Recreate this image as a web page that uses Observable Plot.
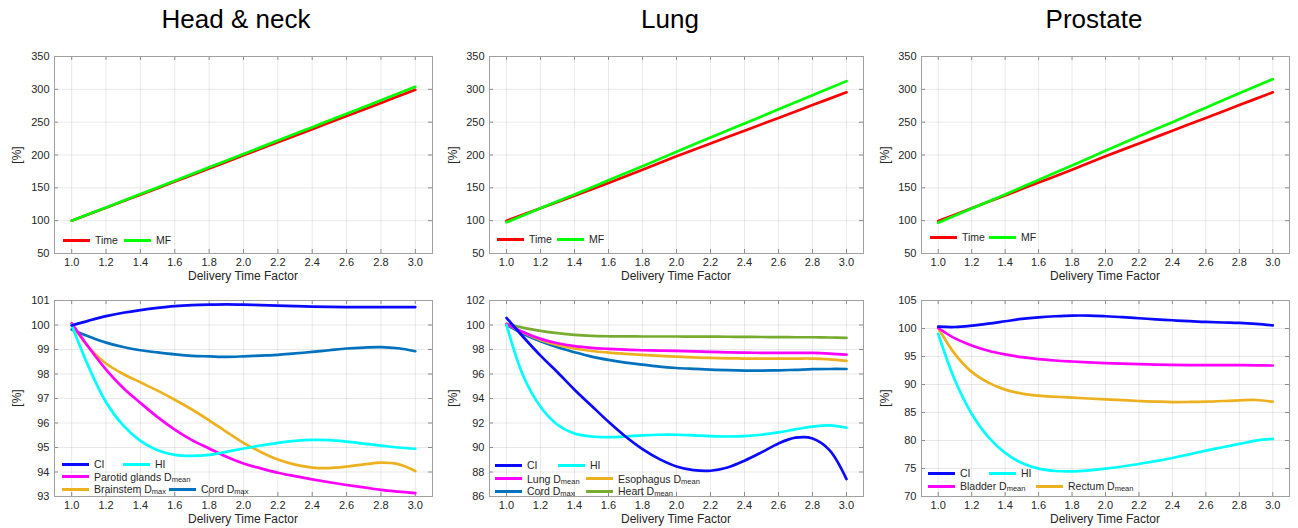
<!DOCTYPE html>
<html>
<head>
<meta charset="utf-8">
<script src="https://cdn.jsdelivr.net/npm/d3@7"></script>
<script src="https://cdn.jsdelivr.net/npm/@observablehq/plot@0.6"></script>
<style>
  body { margin: 0; background: #fff; }
  #root { position: relative; width: 1298px; height: 528px; background: #fff; overflow: hidden;
          font-family: "Liberation Sans", Arial, sans-serif; color: #262626; }
  .title { position: absolute; font-size: 26px; color: #000; transform: translate(-50%, 0); white-space: nowrap; }
  .xlab { position: absolute; font-size: 12px; transform: translate(-50%, -50%); white-space: nowrap; }
  .ylab { position: absolute; font-size: 12px; transform: translate(-50%, -50%) rotate(-90deg); white-space: nowrap; }
  .leg { position: absolute; font-size: 10.5px; white-space: nowrap; display: flex; align-items: center; transform: translate(0, -50%); }
  .leg .sw { display: inline-block; width: 27px; height: 3px; margin-right: 5px; }
  .leg small { font-size: 7.5px; position: relative; top: 1px; }
</style>
</head>
<body>
<div id="root"></div>
<script>
// ---------- data ----------
const titles = ["Head & neck", "Lung", "Prostate"];
const xLabel = "Delivery Time Factor";
const yLabel = "[%]";

const xTicks = [1.0, 1.2, 1.4, 1.6, 1.8, 2.0, 2.2, 2.4, 2.6, 2.8, 3.0];
const xTop = [1.0, 1.2, 1.4, 1.6, 1.8, 2.0, 2.2, 2.4, 2.6, 2.8, 3.0];
const xBottom = [1.0, 1.1, 1.2, 1.3, 1.4, 1.5, 1.6, 1.7, 1.8, 1.9, 2.0, 2.1, 2.2, 2.3, 2.4, 2.5, 2.6, 2.7, 2.8, 2.9, 3.0];

const yTicksTop = [50, 100, 150, 200, 250, 300, 350];
const yTicksHN = [93, 94, 95, 96, 97, 98, 99, 100, 101];
const yTicksLung = [86, 88, 90, 92, 94, 96, 98, 100, 102];
const yTicksProstate = [70, 75, 80, 85, 90, 95, 100, 105];

// top row: Time and MF
const hnTime = [100, 119.7, 139.6, 159.5, 179.4, 199.6, 219.5, 239.4, 259.3, 279.3, 299.2];
const hnMF = [100, 120.2, 140.5, 160.8, 181.2, 201.6, 222.0, 242.4, 262.8, 283.3, 303.8];
const lungTime = [100, 119, 138, 157.5, 177.5, 198, 217.5, 237, 256.5, 276, 295.5];
const lungMF = [97.5, 119, 140, 161.5, 183, 205, 226.5, 248, 269.5, 291, 312.5];
const proTime = [99.5, 119, 138.5, 158, 177.5, 198, 217.5, 237, 256.5, 276, 295.5];
const proMF = [97, 118.5, 140, 162, 184, 206.5, 228.5, 250, 272, 294, 315.5];

// bottom row: Head & neck
const hnCI = [99.98, 100.18, 100.36, 100.5, 100.61, 100.7, 100.77, 100.81, 100.83, 100.84, 100.83, 100.81, 100.79, 100.77, 100.75, 100.74, 100.73, 100.73, 100.73, 100.73, 100.73];
const hnHI = [100.0, 98.27, 96.85, 95.9, 95.27, 94.89, 94.7, 94.66, 94.7, 94.82, 94.96, 95.08, 95.19, 95.27, 95.31, 95.3, 95.24, 95.16, 95.08, 95.0, 94.95];
const hnParotid = [100.07, 99.08, 98.18, 97.43, 96.82, 96.24, 95.73, 95.3, 94.96, 94.62, 94.35, 94.15, 93.97, 93.83, 93.7, 93.58, 93.47, 93.37, 93.27, 93.2, 93.14];
const hnBrainstem = [100.03, 99.08, 98.43, 98.0, 97.66, 97.32, 96.95, 96.55, 96.11, 95.64, 95.19, 94.82, 94.51, 94.3, 94.18, 94.16, 94.22, 94.31, 94.38, 94.32, 94.04];
const hnCord = [99.82, 99.53, 99.28, 99.1, 98.97, 98.88, 98.8, 98.74, 98.72, 98.7, 98.72, 98.75, 98.78, 98.84, 98.9, 98.97, 99.04, 99.08, 99.1, 99.05, 98.93];

// bottom row: Lung
const lungCI = [100.58, 99.0, 97.5, 96.14, 94.72, 93.41, 92.1, 90.9, 89.87, 89.05, 88.45, 88.15, 88.1, 88.37, 88.92, 89.6, 90.33, 90.8, 90.74, 89.79, 87.42];
const lungHI = [100.0, 95.79, 93.33, 91.86, 91.15, 90.9, 90.85, 90.9, 90.99, 91.04, 91.04, 90.99, 90.93, 90.9, 90.93, 91.04, 91.23, 91.48, 91.7, 91.81, 91.62];
const lungLung = [100.09, 99.41, 98.87, 98.51, 98.27, 98.13, 98.05, 97.99, 97.94, 97.91, 97.88, 97.84, 97.8, 97.77, 97.75, 97.73, 97.72, 97.72, 97.72, 97.67, 97.58];
const lungEsophagus = [100.09, 99.38, 98.78, 98.37, 98.08, 97.88, 97.75, 97.65, 97.56, 97.48, 97.42, 97.36, 97.31, 97.28, 97.26, 97.26, 97.26, 97.26, 97.26, 97.2, 97.07];
const lungCord = [100.0, 99.27, 98.67, 98.18, 97.78, 97.42, 97.15, 96.93, 96.77, 96.6, 96.49, 96.42, 96.36, 96.31, 96.28, 96.28, 96.3, 96.34, 96.39, 96.41, 96.41];
const lungHeart = [100.09, 99.77, 99.52, 99.33, 99.19, 99.11, 99.08, 99.07, 99.06, 99.06, 99.06, 99.05, 99.05, 99.04, 99.03, 99.02, 99.01, 99.0, 99.0, 98.98, 98.95];

// bottom row: Prostate
const proCI = [100.33, 100.27, 100.51, 100.87, 101.29, 101.71, 102.0, 102.19, 102.31, 102.31, 102.19, 102.02, 101.83, 101.64, 101.47, 101.3, 101.17, 101.07, 100.99, 100.82, 100.57];
const proHI = [99.02, 90.76, 84.78, 80.59, 77.78, 75.98, 74.97, 74.55, 74.49, 74.67, 74.97, 75.36, 75.8, 76.33, 76.88, 77.53, 78.2, 78.8, 79.39, 79.99, 80.29];
const proBladder = [100.09, 98.24, 96.98, 96.03, 95.37, 94.89, 94.53, 94.29, 94.11, 93.95, 93.81, 93.71, 93.63, 93.56, 93.51, 93.47, 93.45, 93.45, 93.45, 93.42, 93.39];
const proRectum = [100.09, 95.43, 92.26, 90.34, 89.09, 88.37, 88.01, 87.81, 87.65, 87.5, 87.35, 87.2, 87.05, 86.95, 86.87, 86.88, 86.93, 87.05, 87.17, 87.23, 86.93];

// colours
const C = {
  time: "#ff0000", mf: "#00ff00", ci: "#0a0aff", hi: "#00ffff",
  mag: "#ff00ff", orange: "#edb120", steel: "#0072bd", green: "#77ac30"
};

// ---------- layout ----------
const cols = [
  {left: 0, width: 436, ml: 54, mr: 4},
  {left: 436, width: 432, ml: 53, mr: 5},
  {left: 868, width: 430, ml: 53, mr: 9}
];
const rows = [
  {top: 48, height: 237, mt: 8, mb: 32},
  {top: 290, height: 238, mt: 10, mb: 32}
];

const root = document.getElementById("root");

function series(xs, list) {
  const out = [];
  for (const s of list) xs.forEach((x, i) => out.push({x, y: s.values[i], s: s.name}));
  return out;
}

function panel(col, row, yDomain, yTicks, list) {
  const c = cols[col], r = rows[row];
  const data = series(row === 0 ? xTop : xBottom, list);
  const fw = c.width - c.ml - c.mr, fh = r.height - r.mt - r.mb;
  const tickColor = "#8c8c8c";
  const svg = Plot.plot({
    width: c.width, height: r.height,
    marginLeft: c.ml, marginRight: c.mr, marginTop: r.mt, marginBottom: r.mb,
    style: {fontFamily: "'Liberation Sans', Arial, sans-serif", fontSize: "11px", color: "#262626", background: "transparent", overflow: "visible"},
    x: {domain: [0.9, 3.1]},
    y: {domain: yDomain},
    color: {domain: list.map(d => d.name), range: list.map(d => d.color)},
    marks: [
      Plot.gridX(xTicks, {stroke: "#000", strokeOpacity: 0.085}),
      Plot.gridY(yTicks, {stroke: "#000", strokeOpacity: 0.085}),
      Plot.tickX(xTicks, {x: d => d, stroke: tickColor, insetTop: fh - 4}),
      Plot.tickX(xTicks, {x: d => d, stroke: tickColor, insetBottom: fh - 4}),
      Plot.tickY(yTicks, {y: d => d, stroke: tickColor, insetRight: fw - 4}),
      Plot.tickY(yTicks, {y: d => d, stroke: tickColor, insetLeft: fw - 4}),
      Plot.axisX(xTicks, {tickSize: 0, tickPadding: 5, tickFormat: d3.format(".1f"), label: null}),
      Plot.axisY(yTicks, {tickSize: 0, tickPadding: 5, label: null}),
      Plot.frame({stroke: "#a0a0a0"}),
      Plot.line(data, {x: "x", y: "y", z: "s", stroke: "s", strokeWidth: 2.7, curve: "catmull-rom"})
    ]
  });
  svg.style.position = "absolute";
  svg.style.left = c.left + "px";
  svg.style.top = r.top + "px";
  root.appendChild(svg);

  // axis labels
  const cx = c.left + c.ml + fw / 2;
  const xl = document.createElement("div");
  xl.className = "xlab"; xl.textContent = xLabel;
  xl.style.left = cx + "px";
  xl.style.top = (r.top + r.height - r.mb + 23) + "px";
  root.appendChild(xl);
  const yl = document.createElement("div");
  yl.className = "ylab"; yl.textContent = yLabel;
  yl.style.left = (c.left + 17) + "px";
  yl.style.top = (r.top + r.mt + fh / 2) + "px";
  root.appendChild(yl);
}

function legend(items) {
  for (const it of items) {
    const d = document.createElement("div");
    d.className = "leg";
    d.style.left = it.x + "px";
    d.style.top = it.y + "px";
    const sw = document.createElement("span");
    sw.className = "sw"; sw.style.background = it.color;
    d.appendChild(sw);
    const t = document.createElement("span");
    t.textContent = it.label;
    if (it.sub) { const s = document.createElement("small"); s.textContent = it.sub; t.appendChild(s); }
    d.appendChild(t);
    root.appendChild(d);
  }
}

// titles
const titleCenters = [236, 670, 1094];
titles.forEach((t, i) => {
  const d = document.createElement("div");
  d.className = "title"; d.textContent = t;
  d.style.left = titleCenters[i] + "px"; d.style.top = "4px";
  root.appendChild(d);
});

// ---------- panels ----------
panel(0, 0, [50, 350], yTicksTop, [
  {name: "Time", values: hnTime, color: C.time},
  {name: "MF", values: hnMF, color: C.mf}
]);
panel(1, 0, [50, 350], yTicksTop, [
  {name: "Time", values: lungTime, color: C.time},
  {name: "MF", values: lungMF, color: C.mf}
]);
panel(2, 0, [50, 350], yTicksTop, [
  {name: "Time", values: proTime, color: C.time},
  {name: "MF", values: proMF, color: C.mf}
]);

panel(0, 1, [93, 101], yTicksHN, [
  {name: "Cord", values: hnCord, color: C.steel},
  {name: "Brainstem", values: hnBrainstem, color: C.orange},
  {name: "Parotid", values: hnParotid, color: C.mag},
  {name: "HI", values: hnHI, color: C.hi},
  {name: "CI", values: hnCI, color: C.ci}
]);
panel(1, 1, [86, 102], yTicksLung, [
  {name: "Heart", values: lungHeart, color: C.green},
  {name: "Cord", values: lungCord, color: C.steel},
  {name: "Esophagus", values: lungEsophagus, color: C.orange},
  {name: "Lung", values: lungLung, color: C.mag},
  {name: "HI", values: lungHI, color: C.hi},
  {name: "CI", values: lungCI, color: C.ci}
]);
panel(2, 1, [70, 105], yTicksProstate, [
  {name: "Rectum", values: proRectum, color: C.orange},
  {name: "Bladder", values: proBladder, color: C.mag},
  {name: "HI", values: proHI, color: C.hi},
  {name: "CI", values: proCI, color: C.ci}
]);

// ---------- legends ----------
legend([
  {x: 63, y: 240, color: C.time, label: "Time"},
  {x: 124, y: 240, color: C.mf, label: "MF"},
  {x: 497, y: 239, color: C.time, label: "Time"},
  {x: 557, y: 239, color: C.mf, label: "MF"},
  {x: 930, y: 237, color: C.time, label: "Time"},
  {x: 989, y: 237, color: C.mf, label: "MF"},

  {x: 62, y: 464, color: C.ci, label: "CI"},
  {x: 123, y: 464, color: C.hi, label: "HI"},
  {x: 62, y: 476.5, color: C.mag, label: "Parotid glands D", sub: "mean"},
  {x: 62, y: 489, color: C.orange, label: "Brainstem D", sub: "max"},
  {x: 169, y: 489, color: C.steel, label: "Cord D", sub: "max"},

  {x: 495, y: 465, color: C.ci, label: "CI"},
  {x: 558, y: 465, color: C.hi, label: "HI"},
  {x: 495, y: 478.5, color: C.mag, label: "Lung D", sub: "mean"},
  {x: 586, y: 478.5, color: C.orange, label: "Esophagus D", sub: "mean"},
  {x: 495, y: 491, color: C.steel, label: "Cord D", sub: "max"},
  {x: 586, y: 491, color: C.green, label: "Heart D", sub: "mean"},

  {x: 928, y: 473, color: C.ci, label: "CI"},
  {x: 989, y: 473, color: C.hi, label: "HI"},
  {x: 928, y: 486, color: C.mag, label: "Bladder D", sub: "mean"},
  {x: 1036, y: 486, color: C.orange, label: "Rectum D", sub: "mean"}
]);
</script>
</body>
</html>
